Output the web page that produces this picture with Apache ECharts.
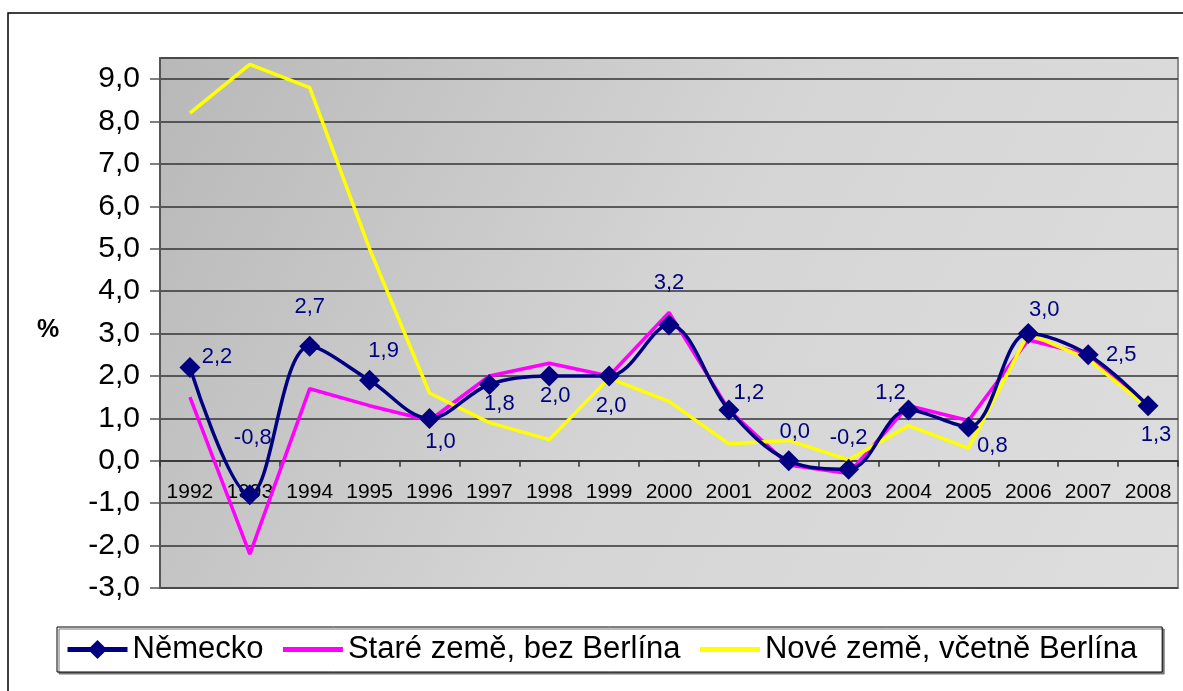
<!DOCTYPE html>
<html>
<head>
<meta charset="utf-8">
<title>HDP Německo</title>
<script src="https://cdn.jsdelivr.net/npm/echarts@6/dist/echarts.min.js"></script>
<style>
	html, body { margin: 0; padding: 0; background: #fff; }
	#chart { width: 1183px; height: 691px; }
</style>
</head>
<body>
<div id="chart"></div>
<script>
var years = ["1992", "1993", "1994", "1995", "1996", "1997", "1998", "1999", "2000",
	"2001", "2002", "2003", "2004", "2005", "2006", "2007", "2008"];
var nemecko = [2.2, -0.8, 2.7, 1.9, 1.0, 1.8, 2.0, 2.0, 3.2, 1.2, 0.0, -0.2, 1.2, 0.8, 3.0, 2.5, 1.3];
var stareZeme = [1.5, -2.2, 1.7, 1.3, 0.95, 2.0, 2.3, 2.0, 3.5, 1.2, -0.1, -0.3, 1.3, 0.95, 2.85, 2.5, 1.3];
var noveZeme = [8.2, 9.35, 8.8, 5.0, 1.6, 0.9, 0.5, 1.95, 1.4, 0.4, 0.48, 0.02, 0.83, 0.3, 3.0, 2.4, 1.25];
var yTicks = { min: -3, max: 9.5, step: 1 };

// posun popisku od znacky (px)
var labelOffsets = [[27, -11], [3, -57], [0, -39], [14, -29], [11, 24], [10, 19], [6, 20], [2, 30], [0, -42],
	[20, -17], [6, -29], [0, -31], [-18, -17], [24, 19], [16, -24], [33, 0], [8, 29]];

var fmt = function (v) { return v.toFixed(1).replace(".", ","); };

window.onload = function () {
	var chart = echarts.init(document.getElementById("chart"));
	var gridTop = 58, gridBottom = 103;
	var plotH = 691 - gridTop - gridBottom;
	// osa x lezi na nule
	var zeroShift = plotH * (0 - yTicks.min) / (yTicks.max - yTicks.min);

	var option = {
		animation: false,
		textStyle: { fontFamily: "Liberation Sans, Arial, sans-serif" },
		grid: {
			left: 160, top: gridTop, right: 5, bottom: gridBottom,
			show: true,
			borderColor: "#8c8c8c",
			borderWidth: 2,
			backgroundColor: {
				type: "linear", x: 0, y: 0, x2: 1, y2: 1,
				colorStops: [
					{ offset: 0, color: "#b8b8b8" },
					{ offset: 0.5, color: "#d5d5d5" },
					{ offset: 1, color: "#dedede" }
				]
			}
		},
		legend: {
			left: 57, top: 627,
			padding: [7, 25, 7, 8],
			itemGap: 17,
			itemWidth: 60,
			itemHeight: 24,
			borderColor: "#000",
			borderWidth: 1,
			backgroundColor: "#fff",
			shadowColor: "#777",
			shadowOffsetX: 2,
			shadowOffsetY: 2,
			textStyle: { fontSize: 31, color: "#000" },
			lineStyle: { width: 5 },
			data: [
				{ name: "Německo" },
				{ name: "Staré země, bez Berlína", itemStyle: { opacity: 0 } },
				{ name: "Nové země, včetně Berlína", itemStyle: { opacity: 0 } }
			]
		},
		graphic: [{
			type: "rect",
			shape: { x: 8, y: 13, width: 1200, height: 720 },
			style: { fill: "none", stroke: "#000", lineWidth: 1.5 },
			silent: true
		}, {
			type: "text",
			left: 37, top: 318,
			style: { text: "%", font: "bold 25px Liberation Sans, Arial, sans-serif", fill: "#000" }
		}],
		xAxis: {
			type: "category",
			data: years,
			boundaryGap: true,
			offset: -zeroShift,
			axisLine: { onZero: false, lineStyle: { color: "#333", width: 1.5 } },
			axisTick: { show: true, length: 6, interval: 0, lineStyle: { color: "#333", width: 1.5 } },
			axisLabel: { fontSize: 21, color: "#000", margin: 21, interval: 0 },
			splitLine: { show: false }
		},
		yAxis: {
			type: "value",
			min: yTicks.min,
			max: yTicks.max,
			interval: yTicks.step,
			axisLine: { show: true, lineStyle: { color: "#555", width: 2 } },
			axisTick: { show: true, length: 10, lineStyle: { color: "#555", width: 1.5 } },
			axisLabel: {
				fontSize: 30, color: "#000", margin: 20,
				showMaxLabel: false,
				formatter: function (v) { return fmt(v); }
			},
			splitLine: { show: true, lineStyle: { color: "#333", width: 1.5 } }
		},
		series: [{
			name: "Německo",
			type: "line",
			smooth: 0.35,
			z: 5,
			symbol: "diamond",
			symbolSize: 21,
			itemStyle: { color: "#000080" },
			lineStyle: { color: "#000080", width: 3.5 },
			label: {
				show: true,
				position: "inside",
				fontSize: 22,
				color: "#000080",
				formatter: function (p) { return fmt(p.value); }
			},
			data: nemecko.map(function (v, i) {
				return { value: v, label: { offset: labelOffsets[i] } };
			})
		}, {
			name: "Staré země, bez Berlína",
			type: "line",
			z: 3,
			symbol: "none",
			itemStyle: { color: "#ff00ff" },
			lineStyle: { color: "#ff00ff", width: 3.5 },
			data: stareZeme
		}, {
			name: "Nové země, včetně Berlína",
			type: "line",
			z: 4,
			symbol: "none",
			itemStyle: { color: "#ffff00" },
			lineStyle: { color: "#ffff00", width: 3.5 },
			data: noveZeme
		}]
	};
	chart.setOption(option);
};
</script>
</body>
</html>
